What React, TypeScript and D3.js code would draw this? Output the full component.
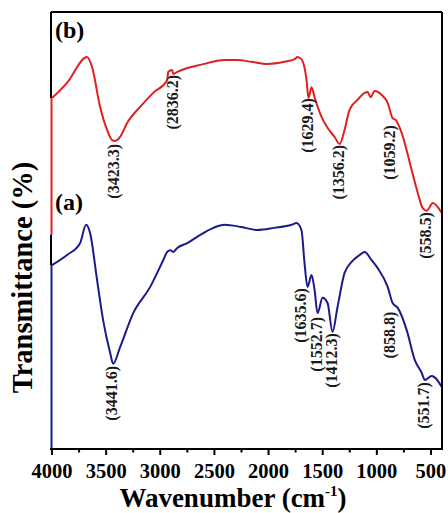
import React from 'react';
import * as d3 from 'd3';

// x axis ticks (wavenumber, cm^-1)
const xTicks = [4000, 3500, 3000, 2500, 2000, 1500, 1000, 500];
const xMinorTicks = [3750, 3250, 2750, 2250, 1750, 1250, 750];

// Series (b) – red
const waveB = [4000, 3861, 3676, 3630, 3556, 3491, 3445, 3417, 3371, 3306, 3186, 3065, 2936, 2927, 2890, 2880, 2843, 2751, 2630, 2408, 2288, 2158, 2010, 1853, 1760, 1733, 1696, 1649, 1631, 1603, 1575, 1511, 1455, 1390, 1344, 1298, 1252, 1178, 1113, 1085, 1057, 1020, 955, 900, 854, 826, 770, 678, 622, 576, 539, 483, 400];
const transB = [80.3, 83.8, 89.7, 87.4, 78.3, 73.0, 70.7, 70.5, 71.4, 74.6, 78.3, 81.5, 84.4, 86.3, 86.7, 85.8, 86.3, 87.2, 87.9, 89.0, 89.0, 88.6, 88.1, 88.6, 89.2, 89.7, 89.2, 84.4, 80.3, 82.8, 80.5, 76.0, 73.5, 71.4, 69.8, 73.0, 77.6, 79.9, 81.5, 81.7, 80.5, 81.9, 81.0, 79.2, 75.7, 75.3, 72.3, 63.8, 58.6, 55.1, 54.5, 56.3, 54.0];
const edgeB = [49, 80.3];

// Series (a) – blue
const waveA = [4000, 3861, 3741, 3685, 3648, 3584, 3528, 3463, 3435, 3371, 3250, 3093, 2973, 2936, 2908, 2880, 2843, 2751, 2630, 2510, 2408, 2251, 2103, 1946, 1788, 1742, 1696, 1668, 1640, 1603, 1575, 1548, 1501, 1455, 1409, 1363, 1298, 1233, 1159, 1113, 1048, 992, 900, 854, 807, 724, 650, 585, 557, 493, 400];
const transA = [42.1, 44.4, 47.1, 51.3, 49.4, 38.7, 29.5, 22.0, 19.5, 23.3, 31.1, 37.1, 43.2, 45.1, 45.5, 45.1, 46.0, 47.1, 49.0, 50.6, 51.3, 50.8, 50.1, 50.6, 51.3, 51.7, 50.1, 42.6, 37.1, 39.8, 36.4, 31.1, 34.6, 33.4, 26.8, 32.5, 40.3, 42.8, 44.4, 45.1, 43.2, 41.4, 37.1, 33.4, 32.3, 27.2, 20.4, 17.4, 15.8, 16.7, 14.2];
const edgeA = [0, 42.1];

// Peak annotations
const labelsB = ['(3423.3)', '(2836.2)', '(1629.4)', '(1356.2)', '(1059.2)', '(558.5)'];
const labelBWave = [3427, 2883, 1636, 1350, 879, 546];
const labelBTop = [69.8, 85.6, 80.3, 69.6, 74.1, 54.2];

const labelsA = ['(3441.6)', '(1635.6)', '(1552.7)', '(1412.3)', '(858.8)', '(551.7)'];
const labelAWave = [3446, 1700, 1553, 1414, 879, 565];
const labelATop = [19.0, 36.8, 30.2, 26.5, 31.4, 15.3];

const RED = '#e0201f';
const BLUE = '#1b1b8c';
const FONT = '"Liberation Serif", "Times New Roman", serif';

export default function App() {
  const W = 448, H = 513;
  const left = 51, right = 442, top = 12, bottom = 449;
  const x = d3.scaleLinear().domain([4000, 400]).range([52, 441.8]);
  const y = d3.scaleLinear().domain([0, 100]).range([bottom, top]);
  const line = d3.line<[number, number]>()
    .x(d => x(d[0]))
    .y(d => y(d[1]))
    .curve(d3.curveMonotoneX);

  const dataB: [number, number][] = waveB.map((w, i) => [w, transB[i]]);
  const dataA: [number, number][] = waveA.map((w, i) => [w, transA[i]]);

  const renderLabels = (texts: string[], waves: number[], tops: number[], key: string) =>
    texts.map((t, i) => (
      <text
        key={key + i}
        transform={`translate(${x(waves[i])},${y(tops[i])}) rotate(-90)`}
        textAnchor="end"
        dy="0.33em"
        fontFamily={FONT}
        fontWeight="bold"
        fontSize={16}
        fill="#1a1a1a"
      >
        {t}
      </text>
    ));

  return (
    <svg width={W} height={H} style={{ position: 'absolute', left: 0, top: 0, background: '#fff' }}>
      <rect x={0} y={0} width={W} height={H} fill="#fff" />
      {/* edges along left spine */}
      <line x1={x(4000) - 0.5} x2={x(4000) - 0.5} y1={y(edgeB[0])} y2={y(edgeB[1])} stroke={RED} strokeWidth={2} />
      <line x1={x(4000) - 0.5} x2={x(4000) - 0.5} y1={y(edgeA[0])} y2={y(edgeA[1])} stroke={BLUE} strokeWidth={2} />
      <path d={line(dataB) || ''} fill="none" stroke={RED} strokeWidth={2} strokeLinejoin="round" />
      <path d={line(dataA) || ''} fill="none" stroke={BLUE} strokeWidth={2} strokeLinejoin="round" />
      {/* frame */}
      <line x1={left} x2={right} y1={top} y2={top} stroke="#000" strokeWidth={2} />
      <line x1={right} x2={right} y1={top} y2={bottom} stroke="#000" strokeWidth={2} />
      <line x1={left - 1} x2={right + 1} y1={bottom} y2={bottom} stroke="#000" strokeWidth={2} />
      <line x1={left} x2={left} y1={top} y2={y(edgeB[1])} stroke="#000" strokeWidth={2} />
      <line x1={left} x2={left} y1={y(edgeB[0])} y2={y(edgeA[1])} stroke="#000" strokeWidth={2} />
      {/* ticks */}
      {xTicks.map(t => (
        <line key={'t' + t} x1={x(t)} x2={x(t)} y1={bottom} y2={bottom + 6} stroke="#000" strokeWidth={2} />
      ))}
      {xMinorTicks.map(t => (
        <line key={'m' + t} x1={x(t)} x2={x(t)} y1={bottom} y2={bottom + 3.5} stroke="#000" strokeWidth={2} />
      ))}
      {xTicks.map(t => (
        <text key={'l' + t} x={x(t)} y={478} textAnchor="middle" fontFamily={FONT} fontWeight="bold" fontSize={20.5} fill="#000">
          {t}
        </text>
      ))}
      {/* panel labels */}
      <text x={55} y={38} fontFamily={FONT} fontWeight="bold" fontSize={24} fill="#000">(b)</text>
      <text x={55} y={210} fontFamily={FONT} fontWeight="bold" fontSize={24} fill="#000">(a)</text>
      {renderLabels(labelsB, labelBWave, labelBTop, 'b')}
      {renderLabels(labelsA, labelAWave, labelATop, 'a')}
      {/* axis titles */}
      <text x={233} y={507} textAnchor="middle" fontFamily={FONT} fontWeight="bold" fontSize={27} fill="#000">
        Wavenumber (cm
        <tspan fontSize={15} dy={-11}>-1</tspan>
        <tspan dy={11}>)</tspan>
      </text>
      <text
        transform="translate(32,277.5) rotate(-90)"
        textAnchor="middle"
        fontFamily={FONT}
        fontWeight="bold"
        fontSize={28.5}
        fill="#000"
      >
        Transmittance (%)
      </text>
    </svg>
  );
}
